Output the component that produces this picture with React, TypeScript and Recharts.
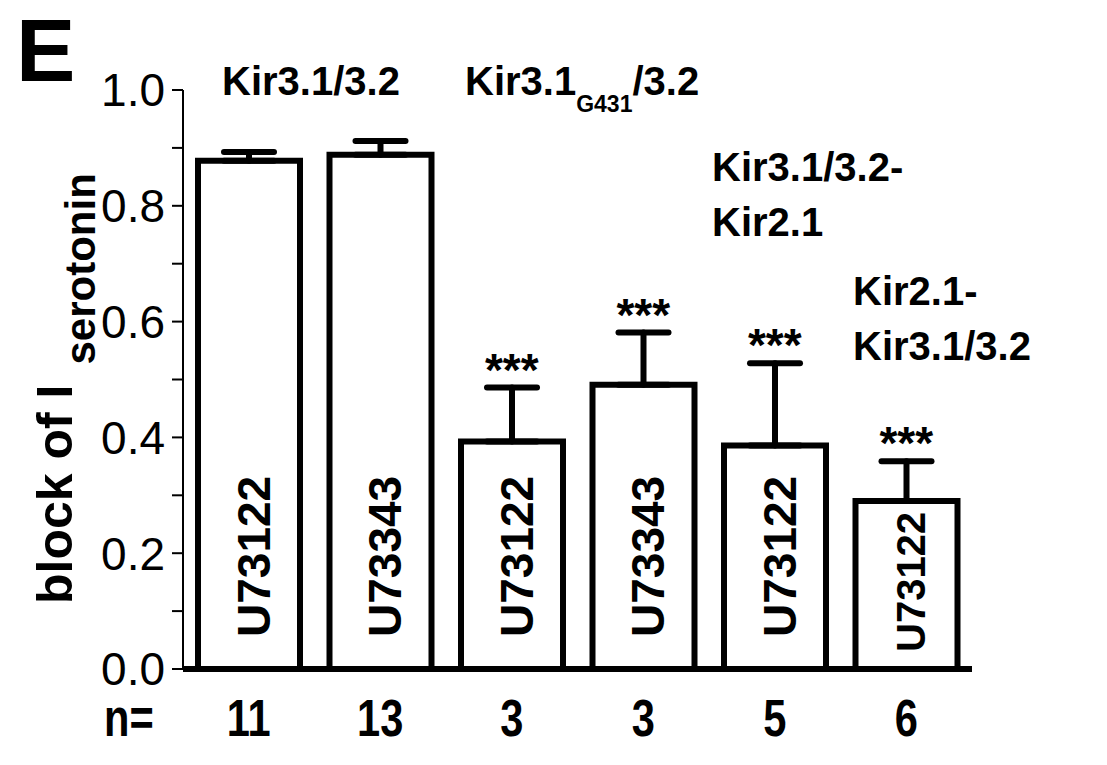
import { ComposedChart, Bar, ErrorBar, Scatter, XAxis, YAxis, LabelList, Customized } from "recharts";

const groups = ["wt-122", "wt-343", "g431-122", "g431-343", "fus1-122", "fus2-122"];
const drugs = ["U73122", "U73343", "U73122", "U73343", "U73122", "U73122"];
const blockMean = [0.878, 0.888, 0.393, 0.491, 0.386, 0.29];
const blockSem = [0.015, 0.024, 0.093, 0.09, 0.142, 0.069];
const nCells = ["11", "13", "3", "3", "5", "6"];
const significant = [false, false, true, true, true, true];
const yTicks = [0, 0.1, 0.2, 0.3, 0.4, 0.5, 0.6, 0.7, 0.8, 0.9, 1.0];

const data = groups.map((g, i) => ({
  group: g,
  drug: drugs[i],
  mean: blockMean[i],
  err: [0, blockSem[i]],
  star: significant[i] ? blockMean[i] + blockSem[i] : null,
}));

const FONT = "'Liberation Sans', Arial, Helvetica, sans-serif";

function DrugLabel(props: any) {
  const { x, y, width, height, value } = props;
  const cx = x + width / 2;
  const small = height < 200;
  const fs = small ? 40 : 46;
  const bottom = y + height - (small ? 17 : 32);
  return (
    <text
      transform={`translate(${cx + fs * 0.45},${bottom}) rotate(-90)`}
      fontFamily={FONT}
      fontWeight="bold"
      fontSize={fs}
      fill="#000"
      textAnchor="start"
    >
      {value}
    </text>
  );
}

// condensed bold numbers under the bars
function NTick(props: any) {
  const { x, y, index } = props;
  return (
    <text
      transform={`translate(${x},${y + 41}) scale(0.8,1)`}
      textAnchor="middle"
      fontFamily={FONT}
      fontWeight="bold"
      fontSize={52}
      fill="#000"
    >
      {nCells[index]}
    </text>
  );
}

function Stars(props: any) {
  const { cx, cy } = props;
  if (cy == null || isNaN(cy)) return null;
  return (
    <text x={cx} y={cy - 2} textAnchor="middle" fontFamily={FONT} fontWeight="bold" fontSize={46} fill="#000">
      ***
    </text>
  );
}

function YLabel() {
  return (
    <text transform="translate(72,604) rotate(-90)" fontFamily={FONT} fontWeight="bold" fontSize={50} fill="#000">
      block of I
      <tspan dx={20} dy={23} fontSize={42}>serotonin</tspan>
    </text>
  );
}

function NLabel() {
  return (
    <text transform="translate(104,736) scale(0.8,1)" fontFamily={FONT} fontWeight="bold" fontSize={52} fill="#000">
      n=
    </text>
  );
}

function Annotations() {
  const t = { fontFamily: FONT, fontWeight: "bold" as const, fontSize: 40, fill: "#000" };
  return (
    <g>
      <text x={16} y={81} fontFamily={FONT} fontWeight="bold" fontSize={89} fill="#000">E</text>
      <text x={222} y={95} {...t}>Kir3.1/3.2</text>
      <text x={465} y={95} {...t}>
        Kir3.1
        <tspan fontSize={23} dy={17}>G431</tspan>
        <tspan dy={-17}>/3.2</tspan>
      </text>
      <text x={712} y={181} {...t}>Kir3.1/3.2-</text>
      <text x={712} y={236} {...t}>Kir2.1</text>
      <text x={853} y={305} {...t}>Kir2.1-</text>
      <text x={853} y={360} {...t}>Kir3.1/3.2</text>
    </g>
  );
}

export default function App() {
  return (
    <div style={{ position: "absolute", left: 0, top: 0, width: 1107, height: 765, background: "#fff" }}>
      <ComposedChart width={1107} height={765} data={data} margin={{ top: 90, right: 135, bottom: 66, left: 83 }}>
        <XAxis
          dataKey="group"
          height={30}
          axisLine={{ stroke: "#000", strokeWidth: 6 }}
          tickLine={false}
          tickSize={0}
          tickMargin={26}
          tick={<NTick />}
          interval={0}
          label={<NLabel />}
        />
        <YAxis
          width={100}
          domain={[0, 1]}
          ticks={yTicks}
          interval={0}
          tickFormatter={(v: number) => (Math.round(v * 10) % 2 === 0 ? v.toFixed(1) : "")}
          axisLine={{ stroke: "#000", strokeWidth: 2 }}
          tickLine={{ stroke: "#000", strokeWidth: 2 }}
          tickSize={11}
          tickMargin={7}
          tick={{ fontSize: 46, fontFamily: FONT, fill: "#000" }}
          label={<YLabel />}
        />
        <Bar dataKey="mean" barSize={102} fill="#fff" stroke="#000" strokeWidth={6} isAnimationActive={false}>
          <ErrorBar dataKey="err" width={25} stroke="#000" strokeWidth={6} strokeLinecap="round" />
          <LabelList dataKey="drug" content={<DrugLabel />} />
        </Bar>
        <Scatter dataKey="star" shape={<Stars />} isAnimationActive={false} />
        <Customized component={<Annotations />} />
      </ComposedChart>
    </div>
  );
}
